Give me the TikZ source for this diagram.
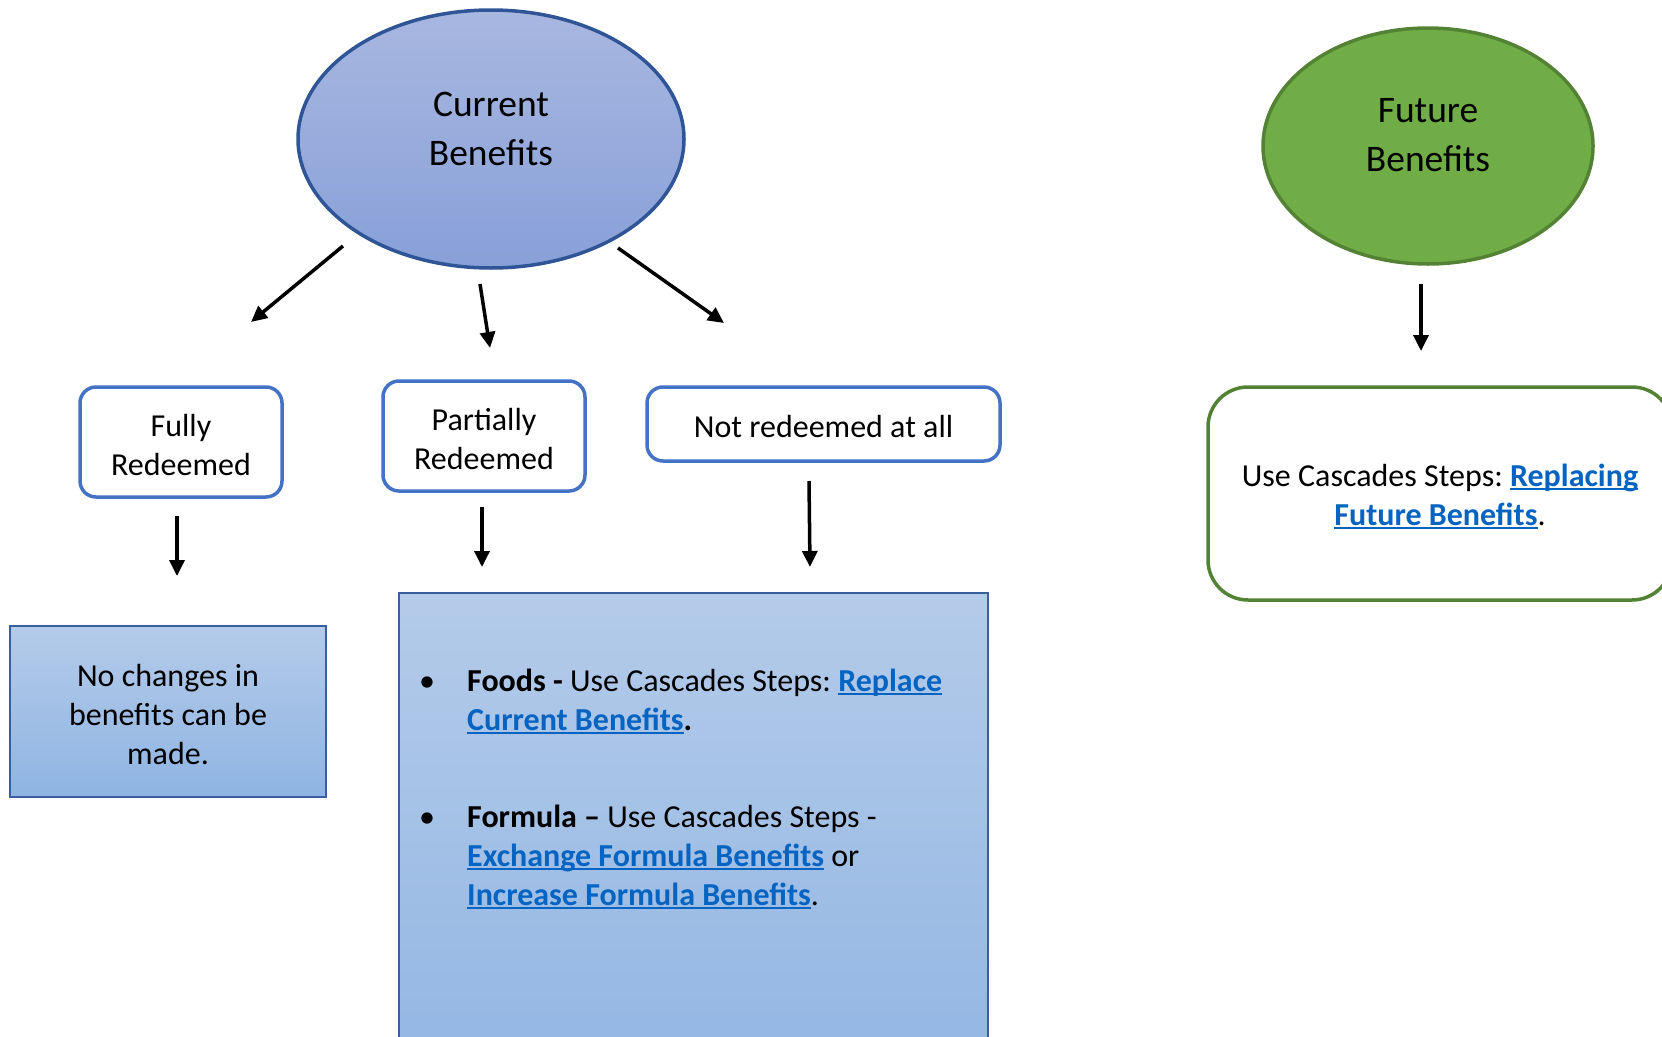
\documentclass[tikz,border=0pt]{standalone}
\usepackage{fontspec}
\setmainfont{Carlito}
\frenchspacing
\usetikzlibrary{arrows.meta,shapes.geometric}
\definecolor{linkblue}{RGB}{5,99,193}
\definecolor{ellblueA}{RGB}{168,183,224}
\definecolor{ellblueB}{RGB}{136,160,216}
\definecolor{ellblueD}{RGB}{47,85,151}
\definecolor{futgreen}{RGB}{112,173,71}
\definecolor{futgreenD}{RGB}{84,130,53}
\definecolor{rectA}{RGB}{180,203,233}
\definecolor{rectB}{RGB}{143,180,227}
\definecolor{rectD}{RGB}{58,95,160}
\definecolor{boxblue}{RGB}{68,114,196}
\newcommand\mylink[1]{\setbox0=\hbox{{\color{linkblue}\bfseries #1}}\rlap{{\color{linkblue}\rule[-4pt]{\wd0}{2pt}}}\box0\relax}
\tikzset{
  arr/.style={line width=3.5pt,-{Triangle[length=16pt,width=15pt]}},
  ellnode/.style={ellipse,line width=3.5pt,inner sep=0pt},
  rbox/.style={draw=boxblue,line width=3.5pt,rounded corners=16pt,fill=white,inner sep=0pt},
  sbox/.style={draw=rectD,line width=2.5pt,top color=rectA,bottom color=rectB,inner sep=0pt},
  boxtxt/.style={font=\fontsize{32}{39}\selectfont\frenchspacing,align=center,inner sep=0pt,yshift=-3pt},
  bigtext/.style={font=\fontsize{37.5}{49}\selectfont,align=center,inner sep=0pt},
  bodytext/.style={font=\fontsize{32}{39}\selectfont\frenchspacing,align=left,inner sep=0pt},
}
\begin{document}
\begin{tikzpicture}[x=1pt,y=-1pt]
\useasboundingbox (0,0) rectangle (1662,1036);
\clip (0,0) rectangle (1662,1036);
% ellipses
\node[ellnode,draw=ellblueD,top color=ellblueA,bottom color=ellblueB,minimum width=386pt,minimum height=258pt] (cur) at (491,139) {};
\node[bigtext] (curtxt) at (491,129) {Current\\Benefits};
\node[ellnode,draw=futgreenD,fill=futgreen,minimum width=330pt,minimum height=236pt] (fut) at (1428,146) {};
\node[bigtext] (futtxt) at (1428,135.5) {Future\\Benefits};
% rounded boxes
\node[rbox,minimum width=202pt,minimum height=110pt] (fully) at (181,442) {};
\node[boxtxt] (fullyt) at (fully.center) {Fully\\Redeemed};
\node[rbox,minimum width=202pt,minimum height=110pt] (partial) at (484,436) {};
\node[boxtxt] (partialt) at (partial.center) {Partially\\Redeemed};
\node[rbox,minimum width=353pt,minimum height=74pt] (notred) at (823.5,424) {};
\node[boxtxt] (notredt) at (notred.center) {Not redeemed at all};
\node[rbox,draw=futgreenD,rounded corners=40pt,minimum width=464pt,minimum height=213pt] (futbox) at (1440,493.5) {};
\node[boxtxt] (futboxt) at (futbox.center) {Use Cascades Steps: \mylink{Replacing}\\\mylink{Future Benefits}.};
% rectangles
\node[sbox,minimum width=316pt,minimum height=171pt] (nochange) at (168,711.5) {};
\node[boxtxt] (nochanget) at (nochange.center) {No changes in\\benefits can be\\made.};
\node[sbox,minimum width=589pt,minimum height=527pt] (big) at (693.5,856.5) {};
\node[bodytext,anchor=base] (bul1) at (427,691) {•};
\node[bodytext,anchor=base west] (foods) at (467,730) {\textbf{Foods -} Use Cascades Steps: \mylink{Replace}\\\mylink{Current Benefits}\textbf{.}};
\node[bodytext,anchor=base] (bul2) at (427,827) {•};
\node[bodytext,anchor=base west] (formula) at (467,905) {\textbf{Formula –} Use Cascades Steps -\\\mylink{Exchange Formula Benefits} or\\\mylink{Increase Formula Benefits}.};
% arrow coordinates
\coordinate (a1s) at (343,246); \coordinate (a1e) at (251,322);
\coordinate (a2s) at (480,284); \coordinate (a2e) at (490,348);
\coordinate (a3s) at (618,248); \coordinate (a3e) at (724,323);
\coordinate (a4s) at (177,516); \coordinate (a4e) at (177,576);
\coordinate (a5s) at (482,507); \coordinate (a5e) at (482,567);
\coordinate (a6s) at (809,481); \coordinate (a6e) at (810,567);
\coordinate (a7s) at (1421,284); \coordinate (a7e) at (1421,351);
\draw[arr] (a1s) -- (a1e);
\draw[arr] (a2s) -- (a2e);
\draw[arr] (a3s) -- (a3e);
\draw[arr] (a4s) -- (a4e);
\draw[arr] (a5s) -- (a5e);
\draw[arr] (a6s) -- (a6e);
\draw[arr] (a7s) -- (a7e);
\end{tikzpicture}
\end{document}
